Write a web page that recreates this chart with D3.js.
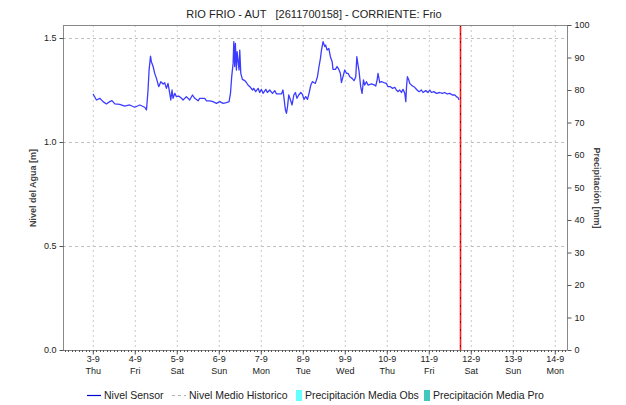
<!DOCTYPE html>
<html>
<head>
<meta charset="utf-8">
<script src="https://cdn.jsdelivr.net/npm/d3@7"></script>
<style>
  html, body { margin: 0; padding: 0; background: #fff; }
  svg { display: block; font-family: "Liberation Sans", Arial, sans-serif; }
</style>
</head>
<body>
<svg id="chart" width="626" height="405"></svg>
<script>
// Time range and reference instants (September 2020)
const inicio = new Date(2020, 8, 2, 7, 0);
const fin = new Date(2020, 8, 14, 7, 0);
const base = new Date(2020, 8, 3, 0, 0);
const horaActual = 210; // hours after 3-9 00:00

// Sensor level: hours after 3-9 00:00 and level in metres
const horas = [0.2, 2.1, 4.0, 5.9, 7.8, 9.7, 11.0, 12.6, 15.4, 18.3, 21.1, 24.0, 26.9, 29.7, 30.7, 31.6, 32.2, 33.0, 33.5, 34.5,
  35.4, 36.4, 37.7, 38.9, 40.2, 41.1, 42.1, 43.0, 44.0, 44.6, 45.3, 45.9, 46.9, 47.8, 49.1, 50.7, 51.6, 53.5, 55.4, 57.0,
  58.3, 60.2, 61.1, 64.0, 65.0, 66.9, 68.7, 70.7, 72.6, 74.5, 76.4, 77.9, 78.7, 79.4, 80.2, 80.6, 81.1, 81.5, 82.1, 82.5,
  83.0, 83.6, 84.0, 84.6, 85.5, 86.9, 87.8, 88.7, 90.1, 91.3, 92.0, 93.1, 94.5, 95.4, 96.4, 97.3, 98.9, 99.8, 101.1, 102.7,
  104.0, 105.0, 107.8, 108.7, 109.3, 110.1, 110.7, 111.3, 112.0, 113.0, 113.9, 114.9, 115.8, 116.7, 117.7, 118.9, 119.8, 120.7, 121.7, 122.7,
  123.6, 124.6, 125.5, 126.5, 127.2, 128.4, 129.3, 130.1, 130.7, 131.6, 132.6, 133.1, 133.9, 134.9, 135.8, 136.8, 137.3, 138.7, 139.6, 140.6,
  141.5, 142.1, 143.0, 144.0, 145.0, 145.9, 146.9, 148.2, 149.3, 150.3, 150.9, 151.6, 152.2, 153.1, 153.9, 154.7, 155.4, 156.4, 157.3, 159.3,
  161.1, 161.7, 162.5, 163.0, 164.0, 165.0, 166.3, 167.8, 168.7, 170.1, 171.2, 172.6, 173.5, 174.5, 175.4, 176.4, 177.3, 178.3, 178.9, 179.3,
  179.8, 180.6, 181.1, 182.7, 184.0, 185.3, 186.5, 187.8, 188.7, 190.3, 191.6, 192.6, 193.5, 194.9, 196.4, 198.3, 199.8, 201.1, 202.5, 204.0,
  205.5, 206.9, 207.8, 208.8, 209.3];
const nivel = [1.231, 1.202, 1.210, 1.194, 1.183, 1.194, 1.199, 1.183, 1.181, 1.173, 1.178, 1.167, 1.178, 1.167, 1.154, 1.250, 1.346, 1.413, 1.386, 1.363,
  1.330, 1.306, 1.266, 1.290, 1.279, 1.285, 1.258, 1.282, 1.234, 1.202, 1.250, 1.210, 1.234, 1.218, 1.221, 1.210, 1.202, 1.218, 1.202, 1.226,
  1.210, 1.198, 1.210, 1.210, 1.198, 1.198, 1.194, 1.186, 1.194, 1.186, 1.189, 1.194, 1.234, 1.314, 1.378, 1.482, 1.363, 1.474, 1.346, 1.434,
  1.394, 1.346, 1.442, 1.330, 1.301, 1.295, 1.286, 1.274, 1.263, 1.250, 1.258, 1.242, 1.258, 1.238, 1.253, 1.234, 1.253, 1.238, 1.250, 1.234,
  1.247, 1.231, 1.231, 1.250, 1.210, 1.154, 1.138, 1.170, 1.226, 1.202, 1.178, 1.226, 1.238, 1.210, 1.226, 1.238, 1.229, 1.205, 1.218, 1.205,
  1.234, 1.274, 1.290, 1.285, 1.282, 1.314, 1.363, 1.402, 1.442, 1.482, 1.459, 1.466, 1.442, 1.450, 1.410, 1.386, 1.349, 1.349, 1.363, 1.349,
  1.330, 1.286, 1.314, 1.346, 1.330, 1.330, 1.314, 1.306, 1.295, 1.314, 1.410, 1.370, 1.338, 1.266, 1.234, 1.298, 1.274, 1.290, 1.274, 1.279,
  1.274, 1.269, 1.298, 1.330, 1.286, 1.290, 1.286, 1.282, 1.266, 1.266, 1.258, 1.263, 1.250, 1.242, 1.250, 1.238, 1.253, 1.234, 1.194, 1.266,
  1.314, 1.298, 1.282, 1.269, 1.263, 1.250, 1.242, 1.250, 1.238, 1.247, 1.238, 1.250, 1.238, 1.242, 1.234, 1.238, 1.234, 1.238, 1.231, 1.234,
  1.226, 1.226, 1.218, 1.213, 1.202];

// Axis ticks
const ticksNivel = [0.0, 0.5, 1.0, 1.5];
const ticksPrecip = [0, 10, 20, 30, 40, 50, 60, 70, 80, 90, 100];
const etiquetasFecha = ["3-9", "4-9", "5-9", "6-9", "7-9", "8-9", "9-9", "10-9", "11-9", "12-9", "13-9", "14-9"];
const etiquetasDia = ["Thu", "Fri", "Sat", "Sun", "Mon", "Tue", "Wed", "Thu", "Fri", "Sat", "Sun", "Mon"];

// Legend entries
const leyenda = [
  { nombre: "Nivel Sensor", tipo: "linea", color: "#0000cc" },
  { nombre: "Nivel Medio Historico", tipo: "guion", color: "#b0b0b0" },
  { nombre: "Precipitación Media Obs", tipo: "caja", color: "#66ffff" },
  { nombre: "Precipitación Media Pro", tipo: "caja", color: "#40c8c0" }
];

const svg = d3.select("#chart");
const m = { left: 63, right: 567, top: 25, bottom: 350 };

const x = d3.scaleTime().domain([inicio, fin]).range([m.left, m.right]);
const y = d3.scaleLinear().domain([0, 1.5625]).range([m.bottom, m.top]);
const y2 = d3.scaleLinear().domain([0, 100]).range([m.bottom, m.top]);

const hora = h => new Date(base.getTime() + h * 3600e3);
const dias = etiquetasFecha.map((_, i) => new Date(2020, 8, 3 + i));

// Grid
const grid = svg.append("g");
grid.selectAll("line.v").data(dias).join("line")
  .attr("x1", d => x(d) + 0.5).attr("x2", d => x(d) + 0.5)
  .attr("y1", m.top).attr("y2", m.bottom)
  .attr("stroke", "#c8c8c8").attr("stroke-dasharray", "2,3");
grid.selectAll("line.h").data(ticksNivel.filter(d => d > 0)).join("line")
  .attr("x1", m.left).attr("x2", m.right)
  .attr("y1", d => Math.round(y(d)) + 0.5).attr("y2", d => Math.round(y(d)) + 0.5)
  .attr("stroke", "#c0c0c0").attr("stroke-dasharray", "3,3");

// Sensor line
const linea = d3.line()
  .x((d, i) => x(hora(horas[i])))
  .y(d => y(d));
svg.append("path").datum(nivel)
  .attr("fill", "none").attr("stroke", "#3c3cff").attr("stroke-width", 1.3)
  .attr("stroke-linejoin", "round").attr("d", linea);

// Current time marker
const xa = Math.round(x(hora(horaActual))) + 0.5;
svg.append("line").attr("x1", xa).attr("x2", xa).attr("y1", m.top).attr("y2", m.bottom)
  .attr("stroke", "#ff2020").attr("stroke-width", 1.6);
svg.append("line").attr("x1", xa).attr("x2", xa).attr("y1", m.top).attr("y2", m.bottom)
  .attr("stroke", "#a00000").attr("stroke-width", 1).attr("stroke-dasharray", "2,6");

// Frame
const marco = svg.append("g").attr("stroke", "#888").attr("fill", "none");
marco.append("line").attr("x1", m.left).attr("x2", m.right).attr("y1", m.top + 0.5).attr("y2", m.top + 0.5);
marco.append("line").attr("x1", m.left + 0.5).attr("x2", m.left + 0.5).attr("y1", m.top).attr("y2", m.bottom);
marco.append("line").attr("x1", m.right + 0.5).attr("x2", m.right + 0.5).attr("y1", m.top).attr("y2", m.bottom);
marco.append("line").attr("x1", m.left).attr("x2", m.right).attr("y1", m.bottom + 0.5).attr("y2", m.bottom + 0.5);

// Left axis
const ejeY = d3.axisLeft(y).tickValues(ticksNivel).tickFormat(d3.format(".1f")).tickSize(4).tickPadding(3);
const gY = svg.append("g").attr("transform", `translate(${m.left + 0.5},0)`).call(ejeY);
gY.select(".domain").remove();
gY.selectAll("line").attr("stroke", "#555");
gY.selectAll("text").attr("font-size", 9).attr("fill", "#222");

// Right axis
const ejeY2 = d3.axisRight(y2).tickValues(ticksPrecip).tickSize(4).tickPadding(3);
const gY2 = svg.append("g").attr("transform", `translate(${m.right + 0.5},0)`).call(ejeY2);
gY2.select(".domain").remove();
gY2.selectAll("line").attr("stroke", "#555");
gY2.selectAll("text").attr("font-size", 9).attr("fill", "#222");

// Bottom axis: minor ticks every two hours and daily labels
const minor = d3.timeHour.every(2).range(inicio, fin);
svg.append("g").selectAll("line").data(minor).join("line")
  .attr("x1", d => Math.round(x(d)) + 0.5).attr("x2", d => Math.round(x(d)) + 0.5)
  .attr("y1", m.bottom).attr("y2", m.bottom + 2)
  .attr("stroke", "#555");
const ejeX = d3.axisBottom(x).tickValues(dias).tickSize(4).tickFormat("");
const gX = svg.append("g").attr("transform", `translate(0,${m.bottom + 0.5})`).call(ejeX);
gX.select(".domain").remove();
gX.selectAll("line").attr("stroke", "#555");
const etq = svg.append("g").attr("font-size", 9).attr("fill", "#222").attr("text-anchor", "middle");
etq.selectAll("text.f").data(dias).join("text")
  .attr("x", d => x(d) + 0.5).attr("y", 362).text((d, i) => etiquetasFecha[i]);
etq.selectAll("text.d").data(dias).join("text")
  .attr("x", d => x(d) + 0.5).attr("y", 374).text((d, i) => etiquetasDia[i]);

// Titles
svg.append("text").attr("x", 314).attr("y", 18).attr("text-anchor", "middle")
  .attr("font-size", 11).attr("fill", "#222")
  .text("RIO FRIO - AUT\u00a0\u00a0\u00a0[2611700158] - CORRIENTE: Frio");
svg.append("text").attr("transform", "translate(36,188) rotate(-90)").attr("text-anchor", "middle")
  .attr("font-size", 9).attr("font-weight", "bold").attr("fill", "#444").text("Nivel del Agua [m]");
svg.append("text").attr("transform", "translate(594,188) rotate(90)").attr("text-anchor", "middle")
  .attr("font-size", 9).attr("font-weight", "bold").attr("fill", "#444").text("Precipitación [mm]");

// Legend
const posLeyenda = [87, 172, 296, 424];
const gL = svg.append("g").attr("font-size", 10.5).attr("fill", "#222");
leyenda.forEach((e, i) => {
  const x0 = posLeyenda[i];
  if (e.tipo === "linea") {
    gL.append("line").attr("x1", x0).attr("x2", x0 + 14).attr("y1", 395.5).attr("y2", 395.5)
      .attr("stroke", e.color).attr("stroke-width", 1.2);
    gL.append("text").attr("x", x0 + 17).attr("y", 399).text(e.nombre);
  } else if (e.tipo === "guion") {
    gL.append("line").attr("x1", x0).attr("x2", x0 + 14).attr("y1", 395.5).attr("y2", 395.5)
      .attr("stroke", e.color).attr("stroke-dasharray", "3,3");
    gL.append("text").attr("x", x0 + 17).attr("y", 399).text(e.nombre);
  } else {
    gL.append("rect").attr("x", x0).attr("y", 390).attr("width", 6).attr("height", 11).attr("fill", e.color);
    gL.append("text").attr("x", x0 + 9).attr("y", 399).text(e.nombre);
  }
});
</script>
</body>
</html>
